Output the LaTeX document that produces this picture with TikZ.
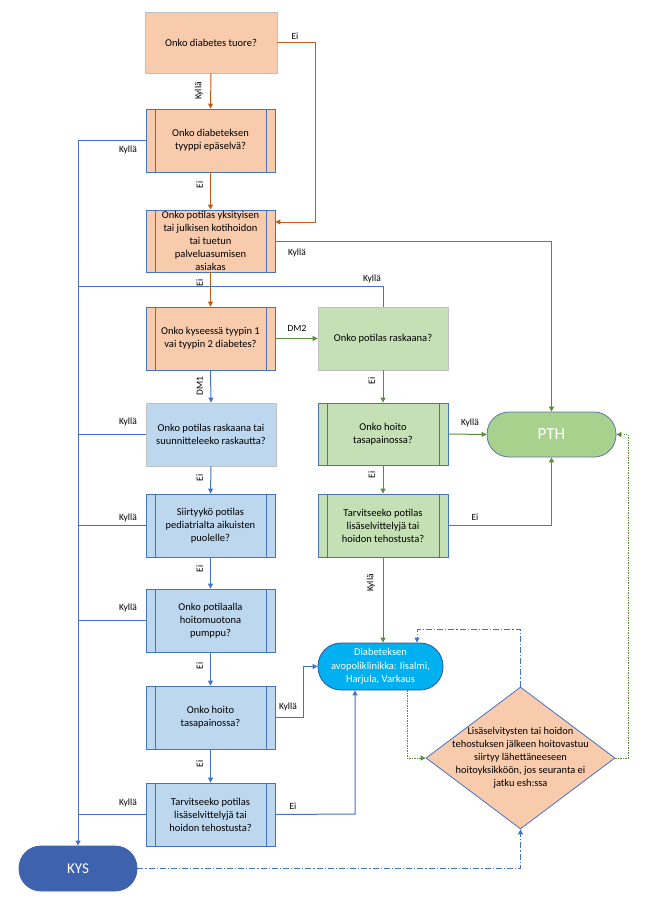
\documentclass[tikz,border=0pt]{standalone}
\usepackage{fontspec}
\setmainfont{Carlito}
\usetikzlibrary{arrows.meta,shapes.geometric,calc}
\definecolor{ofill}{HTML}{F8CBAD}
\definecolor{oline}{HTML}{C55A11}
\definecolor{bline}{HTML}{4472C4}
\definecolor{gfill}{HTML}{C5E0B4}
\definecolor{gline}{HTML}{5B8C3A}
\definecolor{lfill}{HTML}{BDD7EE}
\definecolor{pthfill}{HTML}{A9D18E}
\definecolor{avofill}{HTML}{00B0F0}
\definecolor{kysfill}{HTML}{3F62AE}
\definecolor{gborder}{HTML}{C0C0C0}
\definecolor{darkb}{HTML}{2F5597}
\begin{document}
\begin{tikzpicture}[x=1pt,y=-1pt,
  box/.style={rectangle, minimum width=129pt, minimum height=63pt, inner sep=1pt, align=center, font=\fontsize{10.5}{13}\selectfont, text=black, line width=0.8pt},
  plainbox/.style={box, draw=gborder},
  ppbox/.style={box, draw=bline, path picture={
     \draw[bline, line width=0.8pt] ([xshift=9pt]path picture bounding box.north west) -- ([xshift=9pt]path picture bounding box.south west);
     \draw[bline, line width=0.8pt] ([xshift=-9pt]path picture bounding box.north east) -- ([xshift=-9pt]path picture bounding box.south east);}},
  term/.style={rectangle, rounded corners=22pt, minimum height=45pt, align=center, line width=0.8pt, text=white},
  arr/.style={line width=1pt, -{Triangle[width=5pt,length=5pt]}},
  ln/.style={line width=1pt},
  lab/.style={font=\fontsize{9.5}{11}\selectfont, text=black, inner sep=1pt},
  rlab/.style={lab, rotate=90, anchor=south},
  dashdot/.style={bline, line width=0.9pt, dash pattern=on 6pt off 2pt on 1.2pt off 2pt},
  dotg/.style={gline, line width=0.9pt, dash pattern=on 1.2pt off 1.3pt}
]
\useasboundingbox (0,0) rectangle (655,904);

% left column
\node[plainbox, fill=ofill, minimum width=132pt, minimum height=61pt] (b1) at (211,42.5) {Onko diabetes tuore?};
\node[ppbox, fill=ofill] (b2) at (210.5,140.5) {Onko diabeteksen\\tyyppi epäselvä?};
\node[ppbox, fill=ofill, minimum height=62pt] (b3) at (210.5,241) {Onko potilas yksityisen\\tai julkisen kotihoidon\\tai tuetun\\palveluasumisen\\asiakas};
\node[ppbox, fill=ofill] (b4) at (210.5,338.5) {Onko kyseessä tyypin 1\\vai tyypin 2 diabetes?};
\node[plainbox, fill=lfill, minimum width=130pt] (l1) at (211,434.5) {Onko potilas raskaana tai\\suunnitteleeko raskautta?};
\node[ppbox, fill=lfill] (l2) at (210.5,525.5) {Siirtyykö potilas\\pediatrialta aikuisten\\puolelle?};
\node[ppbox, fill=lfill] (l3) at (210.5,620.5) {Onko potilaalla\\hoitomuotona\\pumppu?};
\node[ppbox, fill=lfill] (l4) at (210.5,717.5) {Onko hoito\\tasapainossa?};
\node[ppbox, fill=lfill] (l5) at (210.5,814.5) {Tarvitseeko potilas\\lisäselvittelyjä tai\\hoidon tehostusta?};

% green column
\node[plainbox, fill=gfill, minimum width=130pt] (g1) at (383,338.5) {Onko potilas raskaana?};
\node[ppbox, fill=gfill, minimum width=130pt, minimum height=62pt] (g2) at (383,434) {Onko hoito\\tasapainossa?};
\node[ppbox, fill=gfill, minimum width=130pt] (g3) at (383,525.5) {Tarvitseeko potilas\\lisäselvittelyjä tai\\hoidon tehostusta?};

% terminals
\node[term, fill=pthfill, draw=darkb!80, minimum width=129pt, font=\fontsize{17}{19}\selectfont] (pth) at (551.5,434.5) {PTH};
\node[term, fill=avofill, draw=darkb, minimum width=125pt, minimum height=47pt, rounded corners=23pt, inner sep=1pt, font=\fontsize{10.5}{13.5}\selectfont] (avo) at (380.5,666.5) {Diabeteksen\\avopoliklinikka: Iisalmi,\\Harjula, Varkaus};
\node[term, fill=kysfill, draw=kysfill, minimum width=118pt, font=\fontsize{15}{17}\selectfont] (kys) at (78,868.5) {KYS};

% diamond
\node[diamond, draw=bline, fill=ofill, line width=0.8pt, minimum width=189pt, minimum height=142pt, inner sep=0pt] (dia) at (520.5,758) {};
\node[align=center, font=\fontsize{10.4}{13}\selectfont, text=black] (diat) at (dia.center) {Lisäselvitysten tai hoidon\\tehostuksen jälkeen hoitovastuu\\siirtyy lähettäneeseen\\hoitoyksikköön, jos seuranta ei\\jatku esh:ssa};

% orange connectors
\draw[arr, oline] (b1.south) -- (b2.north);
\node[rlab] (lk1) at (204,91) {Kyllä};
\coordinate (c1) at (315,222);
\draw[arr, oline] (b1.east) -| (c1) -- (c1 -| b3.east);
\node[lab] (le1) at (295,36) {Ei};
\draw[arr, oline] (b2.south) -- (b3.north);
\node[rlab] (le2) at (204,185) {Ei};
\draw[arr, oline] (b3.south) -- (b4.north);
\node[rlab] (le3) at (204,283) {Ei};

% KYS vertical and Kyllä lines
\draw[arr, bline] (b2.west) -| (kys.north);
\node[lab] (lk2) at (128,150) {Kyllä};
\draw[ln, bline] (l1.west) -- (l1.west -| kys.north);
\node[lab] (lk3) at (128,422) {Kyllä};
\draw[ln, bline] (l2.west) -- (l2.west -| kys.north);
\node[lab] (lk4) at (128,518) {Kyllä};
\draw[ln, bline] (l3.west) -- (l3.west -| kys.north);
\node[lab] (lk5) at (128,608) {Kyllä};
\draw[ln, bline] (l5.west) -- (l5.west -| kys.north);
\node[lab] (lk6) at (128,803) {Kyllä};
\coordinate (c2) at (78,286);
\draw[ln, bline] (g1.north) |- (c2);
\node[lab] (lk7) at (372,279) {Kyllä};

% green from b3 to PTH
\draw[arr, gline] (b3.east) -| (pth.north);
\node[lab] (lk8) at (297,253) {Kyllä};

% DM2, DM1
\draw[arr, gline] (b4.east) -- (g1.west);
\node[lab] (ldm2) at (297,328) {DM2};
\draw[arr, bline] (b4.south) -- (l1.north);
\node[rlab] (ldm1) at (204,386) {DM1};

% blue column arrows
\draw[arr, bline] (l1.south) -- (l2.north);
\node[rlab] (le4) at (204,478) {Ei};
\draw[arr, bline] (l2.south) -- (l3.north);
\node[rlab] (le5) at (204,569) {Ei};
\draw[arr, bline] (l3.south) -- (l4.north);
\node[rlab] (le6) at (204,666) {Ei};
\draw[arr, bline] (l4.south) -- (l5.north);
\node[rlab] (le7) at (204,764) {Ei};
\draw[arr, bline] (l4.east) -- ++(28,0) |- (avo.west);
\node[lab] (lk9) at (288,707) {Kyllä};
\coordinate (c4) at (355,814);
\draw[arr, bline] (l5.east) -- (c4) -- (c4 |- avo.south);
\node[lab] (le8) at (293,806) {Ei};

% green column arrows
\draw[arr, gline] (g1.south) -- (g2.north);
\node[rlab] (le9) at (376,381) {Ei};
\draw[arr, gline] (g2.east) -- (pth.west);
\node[lab] (lk10) at (470,423) {Kyllä};
\draw[arr, gline] (g2.south) -- (g3.north);
\node[rlab] (le10) at (376,475) {Ei};
\draw[arr, gline] (g3.east) -| (pth.south);
\node[lab] (le11) at (475,517) {Ei};
\draw[arr, gline] (g3.south) -- (g3.south |- avo.north);
\node[rlab] (lk11) at (376,583) {Kyllä};

% dotted and dash-dot connectors
\draw[dotg, -{Triangle[width=5pt,length=5pt]}] ([xshift=26.5pt]avo.south) |- (dia.west);
\draw[dotg, -{Triangle[width=5pt,length=5pt]}] (dia.east) -- ++(13,0) |- (pth.east);
\draw[dashdot, -{Triangle[width=5pt,length=5pt]}] (dia.north) -- ++(0,-57) -| ([xshift=36.5pt]avo.north);
\draw[dashdot, -{Triangle[width=5pt,length=5pt]}] (kys.east) -| (dia.south);
\end{tikzpicture}
\end{document}
